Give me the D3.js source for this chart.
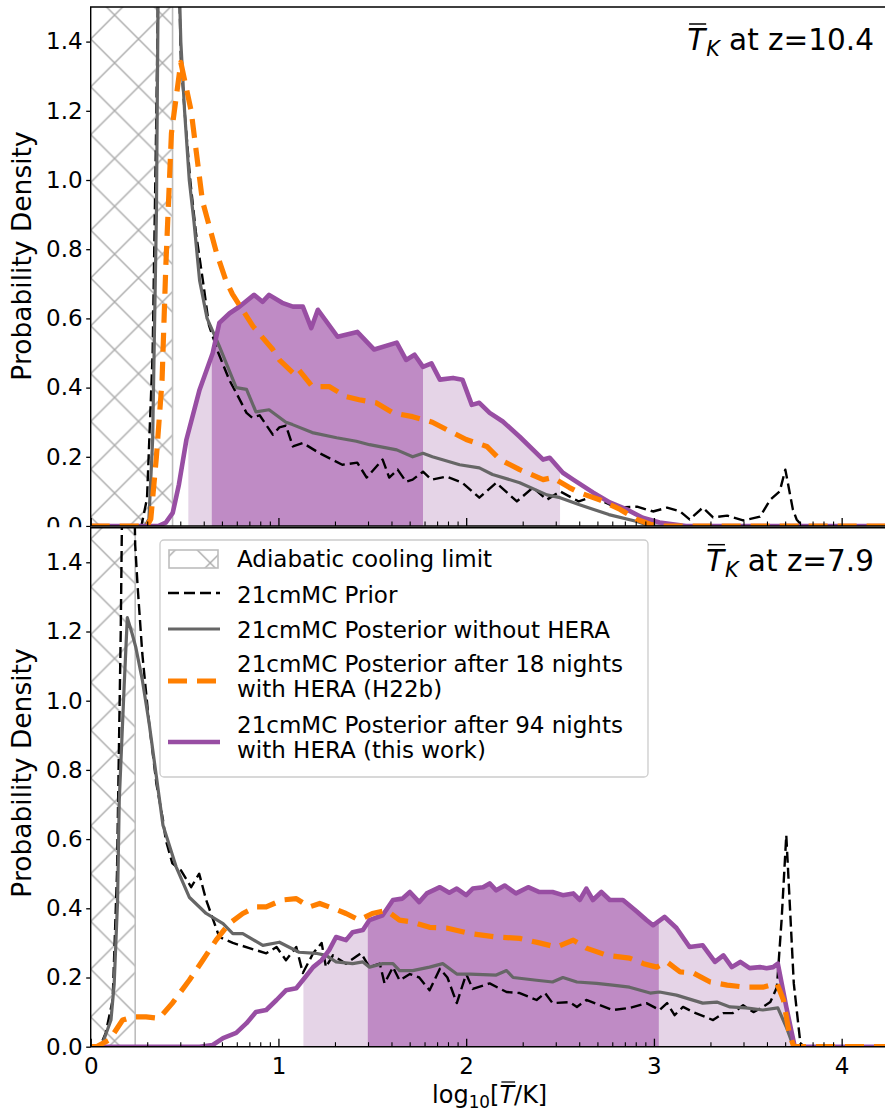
<!DOCTYPE html>
<html>
<head>
<meta charset="utf-8">
<script src="https://cdn.jsdelivr.net/npm/d3@7"></script>
<style>
  body { margin: 0; background: #fff; }
  svg { display: block; }
  text { font-family: "DejaVu Sans", sans-serif; fill: #000; }
</style>
</head>
<body>
<svg id="chart" width="885" height="1115"></svg>
<script>
// ---------- axis settings ----------
const xMax = 4.25;
const yMax = 1.5;
const yTickValues = [0, 0.2, 0.4, 0.6, 0.8, 1.0, 1.2, 1.4];
const xTickValues = [0, 1, 2, 3, 4];
const xTickLabels = ["0", "1", "2", "3", "4"];
const redshiftLabels = ["10.4", "7.9"];
const adiabaticLimits = [0.436, 0.237];
// credible intervals of the 94-night posterior: [outer], [inner]
const outerIntervals = [[0.52, 2.50], [1.133, 3.75]];
const innerIntervals = [[0.645, 1.77], [1.476, 3.026]];
const legendLabels = [
  ["Adiabatic cooling limit"],
  ["21cmMC Prior"],
  ["21cmMC Posterior without HERA"],
  ["21cmMC Posterior after 18 nights", "with HERA (H22b)"],
  ["21cmMC Posterior after 94 nights", "with HERA (this work)"]
];

// ---------- z = 10.4 densities, [log10 T, p] ----------
const priorZ104 = [[0,0],[0.27,0],[0.30,0.08],[0.33,0.5],[0.35,1.2],[0.36,1.6],[0.47,1.6],[0.48,1.35],[0.50,1.2],[0.53,1.0],[0.56,0.85],[0.60,0.7],[0.63,0.58],[0.68,0.5],[0.74,0.42],[0.775,0.385],[0.83,0.327],[0.86,0.313],[0.90,0.32],[0.97,0.264],[1.005,0.285],[1.04,0.29],[1.077,0.23],[1.13,0.24],[1.22,0.21],[1.34,0.177],[1.42,0.183],[1.47,0.14],[1.555,0.192],[1.59,0.14],[1.635,0.163],[1.68,0.128],[1.715,0.134],[1.77,0.157],[1.815,0.134],[1.895,0.143],[1.98,0.125],[2.07,0.082],[2.16,0.125],[2.27,0.071],[2.355,0.111],[2.43,0.076],[2.5,0.1],[2.6,0.071],[2.675,0.085],[2.8,0.053],[2.91,0.056],[2.995,0.042],[3.07,0.053],[3.14,0.042],[3.19,0.019],[3.26,0.053],[3.315,0.025],[3.39,0.03],[3.475,0.016],[3.565,0.027],[3.62,0.076],[3.67,0.1],[3.70,0.163],[3.74,0.048],[3.76,0.019],[3.79,0],[4.25,0]];
const noHeraZ104 = [[0,0],[0.29,0],[0.31,0.02],[0.33,0.25],[0.35,0.9],[0.36,1.6],[0.47,1.6],[0.48,1.4],[0.50,1.2],[0.525,1.0],[0.55,0.88],[0.58,0.71],[0.62,0.6],[0.685,0.52],[0.775,0.40],[0.83,0.395],[0.88,0.33],[0.95,0.336],[1.04,0.30],[1.075,0.293],[1.18,0.27],[1.31,0.255],[1.415,0.245],[1.485,0.235],[1.63,0.22],[1.715,0.20],[1.77,0.21],[1.82,0.20],[1.965,0.177],[2.07,0.168],[2.14,0.149],[2.285,0.125],[2.43,0.09],[2.5,0.082],[2.6,0.062],[2.76,0.033],[2.91,0.013],[2.98,0],[4.25,0]];
const h22bZ104 = [[0,0],[0.30,0],[0.32,0.02],[0.35,0.2],[0.38,0.42],[0.40,0.75],[0.43,1.135],[0.48,1.34],[0.535,1.2],[0.595,0.94],[0.67,0.79],[0.72,0.71],[0.755,0.67],[0.865,0.577],[0.97,0.51],[1.005,0.48],[1.077,0.443],[1.10,0.457],[1.18,0.403],[1.27,0.403],[1.36,0.374],[1.43,0.365],[1.52,0.356],[1.61,0.327],[1.715,0.316],[1.82,0.30],[1.895,0.279],[2.0,0.25],[2.11,0.23],[2.18,0.192],[2.285,0.163],[2.41,0.134],[2.46,0.14],[2.55,0.111],[2.6,0.097],[2.71,0.076],[2.82,0.048],[2.91,0.019],[2.98,0.005],[3.02,0],[4.25,0]];
const thisWorkZ104 = [[0,0],[0.36,0],[0.40,0.01],[0.437,0.038],[0.47,0.12],[0.51,0.25],[0.58,0.394],[0.65,0.5],[0.685,0.587],[0.74,0.615],[0.79,0.633],[0.87,0.668],[0.915,0.648],[0.95,0.668],[1.02,0.645],[1.077,0.634],[1.13,0.634],[1.175,0.572],[1.21,0.625],[1.315,0.547],[1.42,0.561],[1.51,0.51],[1.63,0.53],[1.68,0.48],[1.725,0.495],[1.77,0.46],[1.815,0.47],[1.86,0.423],[1.93,0.428],[1.98,0.423],[2.03,0.35],[2.07,0.356],[2.125,0.327],[2.195,0.302],[2.285,0.258],[2.41,0.192],[2.445,0.197],[2.515,0.154],[2.57,0.134],[2.675,0.097],[2.765,0.068],[2.855,0.048],[2.94,0.024],[3.03,0.01],[3.17,0],[4.25,0]];

// ---------- z = 7.9 densities, [log10 T, p] ----------
const priorZ79 = [[0,0],[0.05,0],[0.08,0.04],[0.117,0.135],[0.14,0.5],[0.16,1.2],[0.168,1.6],[0.232,1.6],[0.237,1.45],[0.25,1.33],[0.275,1.135],[0.31,0.94],[0.35,0.76],[0.385,0.655],[0.40,0.597],[0.435,0.53],[0.48,0.51],[0.535,0.461],[0.578,0.5],[0.615,0.424],[0.685,0.317],[0.757,0.30],[0.845,0.285],[0.935,0.27],[0.99,0.288],[1.04,0.25],[1.095,0.288],[1.13,0.213],[1.185,0.27],[1.23,0.30],[1.253,0.23],[1.29,0.264],[1.36,0.24],[1.44,0.27],[1.485,0.23],[1.54,0.24],[1.565,0.183],[1.61,0.23],[1.645,0.192],[1.70,0.21],[1.75,0.2],[1.805,0.163],[1.86,0.225],[1.90,0.2],[1.95,0.126],[2.0,0.21],[2.035,0.167],[2.125,0.183],[2.215,0.158],[2.285,0.155],[2.375,0.135],[2.42,0.155],[2.46,0.126],[2.55,0.129],[2.59,0.115],[2.64,0.135],[2.78,0.106],[2.87,0.112],[2.96,0.126],[3.03,0.106],[3.07,0.126],[3.11,0.091],[3.155,0.115],[3.21,0.1],[3.315,0.077],[3.37,0.097],[3.42,0.097],[3.475,0.12],[3.53,0.1],[3.58,0.115],[3.62,0.129],[3.655,0.172],[3.68,0.366],[3.705,0.611],[3.72,0.452],[3.745,0.183],[3.78,0.01],[3.80,0],[4.25,0]];
const noHeraZ79 = [[0,0],[0.05,0],[0.06,0.005],[0.108,0.077],[0.125,0.18],[0.143,0.42],[0.152,0.71],[0.178,1.04],[0.195,1.24],[0.22,1.195],[0.24,1.155],[0.275,1.06],[0.31,0.94],[0.35,0.78],[0.385,0.64],[0.455,0.52],[0.525,0.432],[0.615,0.385],[0.705,0.356],[0.757,0.327],[0.81,0.327],[0.917,0.293],[1.005,0.302],[1.11,0.273],[1.20,0.27],[1.253,0.264],[1.307,0.245],[1.395,0.24],[1.45,0.245],[1.485,0.23],[1.555,0.24],[1.61,0.24],[1.645,0.22],[1.715,0.22],[1.805,0.23],[1.875,0.24],[1.95,0.21],[2.02,0.21],[2.16,0.207],[2.215,0.22],[2.25,0.2],[2.375,0.192],[2.46,0.187],[2.515,0.2],[2.59,0.187],[2.695,0.183],[2.78,0.178],[2.87,0.172],[2.98,0.155],[3.03,0.158],[3.12,0.149],[3.26,0.126],[3.335,0.129],[3.405,0.115],[3.49,0.112],[3.58,0.106],[3.66,0.112],[3.705,0.057],[3.74,0.005],[3.76,0],[4.25,0]];
const h22bZ79 = [[0,0],[0.03,0],[0.10,0.02],[0.17,0.077],[0.225,0.086],[0.295,0.086],[0.365,0.082],[0.435,0.126],[0.525,0.192],[0.597,0.25],[0.668,0.308],[0.738,0.356],[0.81,0.385],[0.88,0.404],[0.935,0.404],[1.02,0.424],[1.095,0.428],[1.165,0.404],[1.22,0.414],[1.29,0.40],[1.36,0.385],[1.43,0.366],[1.50,0.385],[1.575,0.394],[1.645,0.366],[1.715,0.36],[1.805,0.345],[1.895,0.343],[2.02,0.327],[2.16,0.317],[2.285,0.313],[2.39,0.30],[2.48,0.288],[2.57,0.308],[2.64,0.285],[2.75,0.264],[2.87,0.256],[2.945,0.24],[3.015,0.23],[3.07,0.245],[3.14,0.216],[3.21,0.213],[3.30,0.187],[3.39,0.178],[3.49,0.172],[3.58,0.172],[3.655,0.183],[3.69,0.135],[3.72,0.04],[3.745,0],[4.25,0]];
const thisWorkZ79 = [[0,0],[0.58,0],[0.65,0.005],[0.705,0.025],[0.775,0.04],[0.83,0.068],[0.88,0.1],[0.935,0.106],[0.99,0.135],[1.04,0.163],[1.095,0.169],[1.138,0.198],[1.185,0.23],[1.23,0.25],[1.27,0.279],[1.307,0.317],[1.36,0.308],[1.395,0.331],[1.45,0.337],[1.485,0.366],[1.555,0.38],[1.61,0.424],[1.66,0.428],[1.70,0.447],[1.75,0.418],[1.79,0.443],[1.86,0.461],[1.91,0.445],[1.95,0.457],[2.0,0.438],[2.035,0.457],[2.09,0.461],[2.125,0.472],[2.16,0.452],[2.205,0.466],[2.265,0.443],[2.33,0.461],[2.39,0.447],[2.46,0.447],[2.515,0.438],[2.57,0.443],[2.605,0.424],[2.64,0.457],[2.675,0.424],[2.72,0.447],[2.765,0.424],[2.835,0.424],[2.91,0.39],[2.96,0.366],[2.995,0.351],[3.057,0.375],[3.12,0.343],[3.19,0.288],[3.26,0.293],[3.325,0.245],[3.37,0.264],[3.415,0.23],[3.46,0.245],[3.51,0.227],[3.565,0.23],[3.60,0.227],[3.635,0.23],[3.66,0.24],[3.705,0.115],[3.75,0],[4.25,0]];

// ---------- styles ----------
const FONT = 23;
const colors = {
  prior: "#000000",
  noHera: "#666666",
  h22b: "#ff7f00",
  thisWork: "#984ea3",
  fillOuter: "#e5d4e7",
  fillInner: "#bf8bc5",
  hatch: "#ababab",
  hatchEdge: "#bdbdbd"
};
const lineStyles = {
  prior:    { color: colors.prior,    width: 2.4, dash: "11,5" },
  noHera:   { color: colors.noHera,   width: 3.2, dash: null },
  h22b:     { color: colors.h22b,     width: 5.2, dash: "19,10" },
  thisWork: { color: colors.thisWork, width: 4.6, dash: null }
};

// ---------- layout ----------
const svg = d3.select("#chart");
const plotLeft = 90.7, plotRight = 888.6;
const panels = [
  { top: 7,     bottom: 526,    z: redshiftLabels[0], limit: adiabaticLimits[0],
    outer: outerIntervals[0], inner: innerIntervals[0], ylabelY: 256, hatchY: 39,
    series: { prior: priorZ104, noHera: noHeraZ104, h22b: h22bZ104, thisWork: thisWorkZ104 },
    xLabels: false },
  { top: 527.7, bottom: 1046.7, z: redshiftLabels[1], limit: adiabaticLimits[1],
    outer: outerIntervals[1], inner: innerIntervals[1], ylabelY: 773, hatchY: 539,
    series: { prior: priorZ79, noHera: noHeraZ79, h22b: h22bZ79, thisWork: thisWorkZ79 },
    xLabels: true }
];

const x = d3.scaleLinear().domain([0, xMax]).range([plotLeft, plotRight]);

// minor ticks on the log-temperature axis sit at log10 of 2..9 within each decade
const xMinorTicks = [];
for (let n = 0; n < Math.ceil(xMax); n++) {
  for (let k = 2; k <= 9; k++) {
    const v = n + Math.log10(k);
    if (v <= xMax) xMinorTicks.push(v);
  }
}

const defs = svg.append("defs");
// cross-hatch for the adiabatic cooling region (one per panel, each with its own origin)
const HP = 47.8;
function makeHatch(id, ox, oy) {
  const pat = defs.append("pattern")
    .attr("id", id)
    .attr("patternUnits", "userSpaceOnUse")
    .attr("width", HP).attr("height", HP)
    .attr("x", ox).attr("y", oy);
  [[0, 0, HP, HP], [0, HP, HP, 0],
   [-2, HP - 2, 2, HP + 2], [HP - 2, -2, HP + 2, 2],
   [-2, 2, 2, -2], [HP - 2, HP + 2, HP + 2, HP - 2]].forEach(l => {
    pat.append("line")
      .attr("x1", l[0]).attr("y1", l[1]).attr("x2", l[2]).attr("y2", l[3])
      .attr("stroke", colors.hatch).attr("stroke-width", 1.4);
  });
}
panels.forEach((p, i) => makeHatch("hatchX" + i, plotLeft, p.hatchY));

function drawPanel(p, i) {
  const g = svg.append("g");
  const y = d3.scaleLinear().domain([0, yMax]).range([p.bottom, p.top]);
  const clipId = "clip" + i;
  defs.append("clipPath").attr("id", clipId)
    .append("rect")
    .attr("x", plotLeft).attr("y", p.top)
    .attr("width", plotRight - plotLeft).attr("height", p.bottom - p.top);

  // panel background (hides anything from the panel above)
  g.append("rect")
    .attr("x", 0).attr("y", p.top - (i ? 0.5 : 7))
    .attr("width", 885).attr("height", p.bottom - p.top + (i ? 70 : 7))
    .attr("fill", "#fff");

  const plot = g.append("g").attr("clip-path", `url(#${clipId})`);

  // adiabatic cooling limit
  plot.append("rect")
    .attr("x", x(0)).attr("y", p.top)
    .attr("width", x(p.limit) - x(0)).attr("height", p.bottom - p.top)
    .attr("fill", `url(#hatchX${i})`);
  plot.append("line")
    .attr("x1", x(p.limit)).attr("x2", x(p.limit))
    .attr("y1", p.top).attr("y2", p.bottom)
    .attr("stroke", colors.hatchEdge).attr("stroke-width", 1.6);

  // shaded credible intervals under the 94-night posterior
  const area = d3.area().x(d => x(d[0])).y0(y(0)).y1(d => y(d[1]));
  [[p.outer, colors.fillOuter, "o"], [p.inner, colors.fillInner, "i"]].forEach(([iv, col, tag]) => {
    const cid = `clip${i}${tag}`;
    defs.append("clipPath").attr("id", cid)
      .append("rect")
      .attr("x", x(iv[0])).attr("y", p.top)
      .attr("width", x(iv[1]) - x(iv[0])).attr("height", p.bottom - p.top);
    plot.append("path")
      .datum(p.series.thisWork)
      .attr("clip-path", `url(#${cid})`)
      .attr("d", area)
      .attr("fill", col);
  });

  const line = d3.line().x(d => x(d[0])).y(d => y(d[1]));
  ["prior", "noHera", "thisWork", "h22b"].forEach(key => {
    const st = lineStyles[key];
    plot.append("path")
      .datum(p.series[key])
      .attr("d", line)
      .attr("fill", "none")
      .attr("stroke", st.color)
      .attr("stroke-width", st.width)
      .attr("stroke-linejoin", "round")
      .attr("stroke-dasharray", st.dash);
  });

  // y axis
  const yAxis = d3.axisLeft(y)
    .tickValues(yTickValues)
    .tickSize(4.5)
    .tickPadding(3.5)
    .tickFormat(d3.format(".1f"));
  const ya = g.append("g").attr("transform", `translate(${plotLeft},0)`).call(yAxis);
  ya.select(".domain").remove();
  ya.selectAll(".tick line").attr("stroke", "#000").attr("stroke-width", 1.3);
  ya.selectAll(".tick text").attr("font-size", FONT).attr("font-family", "DejaVu Sans");

  // x axis, ticks pointing inward
  const xAxisMajor = d3.axisBottom(x)
    .tickValues(xTickValues)
    .tickSize(-8)
    .tickPadding(11)
    .tickFormat((d, j) => p.xLabels ? xTickLabels[j] : "");
  const xa = g.append("g").attr("transform", `translate(0,${p.bottom})`).call(xAxisMajor);
  xa.select(".domain").remove();
  xa.selectAll(".tick line").attr("stroke", "#000").attr("stroke-width", 1.3);
  xa.selectAll(".tick text").attr("font-size", FONT).attr("font-family", "DejaVu Sans");
  const xAxisMinor = d3.axisBottom(x).tickValues(xMinorTicks).tickSize(-4.5).tickFormat("");
  const xm = g.append("g").attr("transform", `translate(0,${p.bottom})`).call(xAxisMinor);
  xm.select(".domain").remove();
  xm.selectAll(".tick line").attr("stroke", "#000").attr("stroke-width", 1.1);

  // frame
  g.append("path")
    .attr("d", `M${plotRight + 5},${p.top}H${plotLeft}V${p.bottom}H${plotRight + 5}`)
    .attr("fill", "none").attr("stroke", "#000").attr("stroke-width", 1.4);

  // y label
  g.append("text")
    .attr("transform", `translate(31,${p.ylabelY}) rotate(-90)`)
    .attr("text-anchor", "middle")
    .attr("font-size", 26.5)
    .text("Probability Density");

  // panel title: T-bar_K at z=...
  const TF = 29.5;
  const t = g.append("text")
    .attr("x", 874).attr("y", p.top + 43)
    .attr("text-anchor", "end")
    .attr("font-size", TF);
  t.append("tspan").attr("font-style", "italic").text("T");
  t.append("tspan").attr("font-style", "italic").attr("font-size", TF * 0.7)
    .attr("dx", 1).attr("dy", 6).text("K");
  t.append("tspan").attr("dy", -6).text(" at z=" + p.z);
  const ext = t.node().getExtentOfChar(0);
  g.append("line")
    .attr("x1", ext.x + 2).attr("x2", ext.x + ext.width + 1)
    .attr("y1", ext.y + 1).attr("y2", ext.y + 1)
    .attr("stroke", "#000").attr("stroke-width", 1.5);
}

panels.forEach(drawPanel);

// x-axis label: log10[T-bar/K]
const XF = 24;
const xl = svg.append("text")
  .attr("x", (plotLeft + plotRight) / 2).attr("y", 1103)
  .attr("text-anchor", "middle")
  .attr("font-size", XF);
xl.append("tspan").text("log");
xl.append("tspan").attr("font-size", XF * 0.7).attr("dy", 5).text("10");
xl.append("tspan").attr("dy", -5).text("[");
xl.append("tspan").attr("font-style", "italic").text("T");
xl.append("tspan").text("/K]");
{
  const ext = xl.node().getExtentOfChar(6);
  svg.append("line")
    .attr("x1", ext.x + 2).attr("x2", ext.x + ext.width + 1)
    .attr("y1", ext.y + 1).attr("y2", ext.y + 1)
    .attr("stroke", "#000").attr("stroke-width", 1.3);
}

// ---------- legend ----------
const lg = svg.append("g");
lg.append("rect")
  .attr("x", 160).attr("y", 540).attr("width", 488).attr("height", 237)
  .attr("rx", 4).attr("ry", 4)
  .attr("fill", "#fff").attr("fill-opacity", 0.8)
  .attr("stroke", "#cccccc").attr("stroke-width", 1.3);

const hx0 = 169, hx1 = 218, textX = 237;
// hatch patch
lg.append("rect")
  .attr("x", hx0).attr("y", 550).attr("width", hx1 - hx0).attr("height", 18)
  .attr("fill", "url(#hatchX1)")
  .attr("stroke", colors.hatchEdge).attr("stroke-width", 1.6);

const legendLines = [
  { key: "prior", y: 593 },
  { key: "noHera", y: 629 },
  { key: "h22b", y: 681 },
  { key: "thisWork", y: 742 }
];
legendLines.forEach(d => {
  const st = lineStyles[d.key];
  lg.append("line")
    .attr("x1", hx0 - 1).attr("x2", hx1 + 2)
    .attr("y1", d.y).attr("y2", d.y)
    .attr("stroke", st.color).attr("stroke-width", st.width)
    .attr("stroke-dasharray", st.dash);
});

const baselines = [[567], [603], [638], [672, 697], [733, 758]];
legendLabels.forEach((lines, j) => {
  lines.forEach((s, k) => {
    lg.append("text")
      .attr("x", textX).attr("y", baselines[j][k])
      .attr("font-size", FONT)
      .text(s);
  });
});
</script>
</body>
</html>
